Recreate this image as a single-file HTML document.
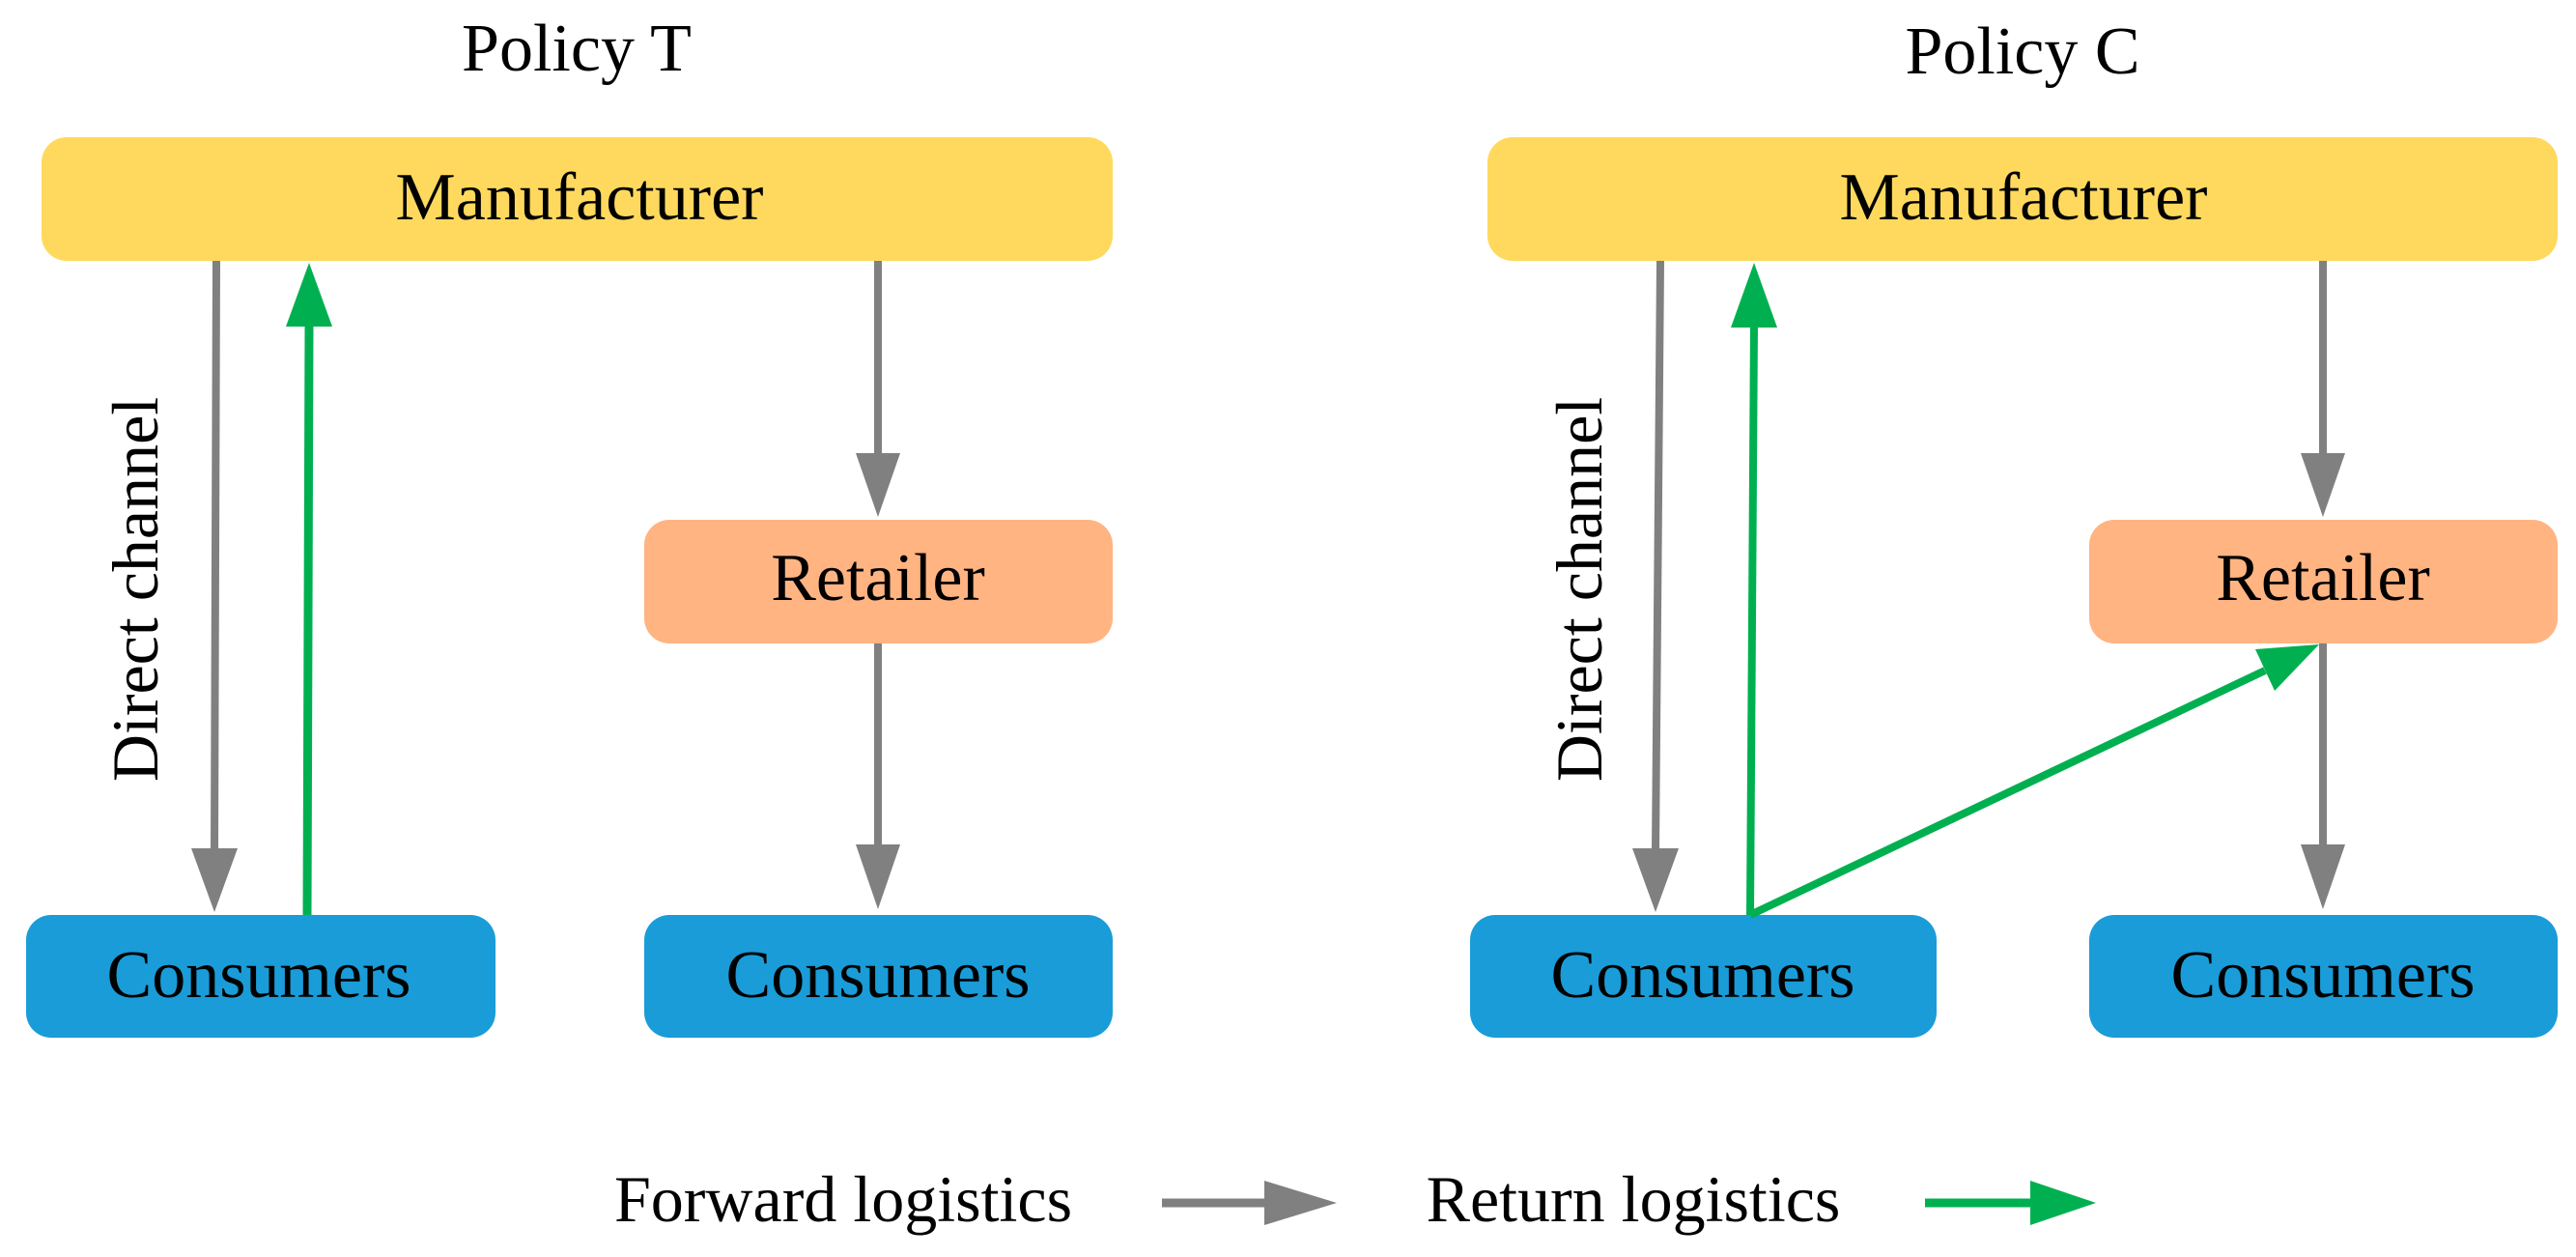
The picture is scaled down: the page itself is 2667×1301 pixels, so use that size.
<!DOCTYPE html>
<html><head><meta charset="utf-8"><style>
html,body{margin:0;padding:0;background:#fff;}
svg{display:block;}
text{font-family:"Liberation Serif","DejaVu Serif",serif;fill:#000;}
</style></head><body>
<svg width="2667" height="1301" viewBox="0 0 2667 1301" xmlns="http://www.w3.org/2000/svg">

<!-- Titles -->
<text x="597" y="73" font-size="70" text-anchor="middle">Policy T</text>
<text x="2094" y="76" font-size="70" text-anchor="middle">Policy C</text>

<!-- Left panel -->
<rect x="43" y="142" width="1109" height="128" rx="26" fill="#FFD95E"/>
<text x="600" y="227" font-size="70" text-anchor="middle">Manufacturer</text>
<rect x="667" y="538" width="485" height="128" rx="26" fill="#FFB482"/>
<text x="909" y="621" font-size="70" text-anchor="middle">Retailer</text>
<rect x="27" y="947" width="486" height="127" rx="26" fill="#1A9CD8"/>
<text x="268" y="1032" font-size="70" text-anchor="middle">Consumers</text>
<rect x="667" y="947" width="485" height="127" rx="26" fill="#1A9CD8"/>
<text x="909" y="1032" font-size="70" text-anchor="middle">Consumers</text>

<line x1="224" y1="270" x2="222" y2="880" stroke="#808080" stroke-width="8"/>
<polygon points="198,878 246,878 222,944" fill="#808080"/>
<line x1="318" y1="947" x2="320" y2="336" stroke="#00B050" stroke-width="9"/>
<polygon points="296,338 344,338 320,272" fill="#00B050"/>
<line x1="909" y1="270" x2="909" y2="472" stroke="#808080" stroke-width="8"/>
<polygon points="886,469 932,469 909,535" fill="#808080"/>
<line x1="909" y1="666" x2="909" y2="877" stroke="#808080" stroke-width="8"/>
<polygon points="886,874 932,874 909,941" fill="#808080"/>
<text transform="translate(163,610) rotate(-90)" font-size="68" text-anchor="middle">Direct channel</text>

<!-- Right panel -->
<rect x="1540" y="142" width="1108" height="128" rx="26" fill="#FFD95E"/>
<text x="2095" y="227" font-size="70" text-anchor="middle">Manufacturer</text>
<rect x="2163" y="538" width="485" height="128" rx="26" fill="#FFB482"/>
<text x="2405" y="621" font-size="70" text-anchor="middle">Retailer</text>
<rect x="1522" y="947" width="483" height="127" rx="26" fill="#1A9CD8"/>
<text x="1763" y="1032" font-size="70" text-anchor="middle">Consumers</text>
<rect x="2163" y="947" width="485" height="127" rx="26" fill="#1A9CD8"/>
<text x="2405" y="1032" font-size="70" text-anchor="middle">Consumers</text>

<line x1="1719" y1="270" x2="1714" y2="880" stroke="#808080" stroke-width="8"/>
<polygon points="1690,878 1738,878 1714,944" fill="#808080"/>
<line x1="1812" y1="947" x2="1816" y2="336" stroke="#00B050" stroke-width="8"/>
<polygon points="1792,339 1840,339 1816,272" fill="#00B050"/>
<line x1="1812" y1="947" x2="2345" y2="694" stroke="#00B050" stroke-width="8"/>
<polygon points="2401,667 2335,672 2355,715" fill="#00B050"/>
<line x1="2405" y1="270" x2="2405" y2="472" stroke="#808080" stroke-width="8"/>
<polygon points="2382,469 2428,469 2405,535" fill="#808080"/>
<line x1="2405" y1="666" x2="2405" y2="877" stroke="#808080" stroke-width="8"/>
<polygon points="2382,874 2428,874 2405,941" fill="#808080"/>
<text transform="translate(1658,610) rotate(-90)" font-size="68" text-anchor="middle">Direct channel</text>

<!-- Legend -->
<text x="873" y="1264" font-size="68" text-anchor="middle">Forward logistics</text>
<line x1="1203" y1="1245" x2="1312" y2="1245" stroke="#808080" stroke-width="9"/>
<polygon points="1309,1222 1309,1268 1384,1245" fill="#808080"/>
<text x="1691" y="1264" font-size="68" text-anchor="middle">Return logistics</text>
<line x1="1993" y1="1245" x2="2105" y2="1245" stroke="#00B050" stroke-width="9"/>
<polygon points="2102,1222 2102,1268 2170,1245" fill="#00B050"/>
</svg>
</body></html>
